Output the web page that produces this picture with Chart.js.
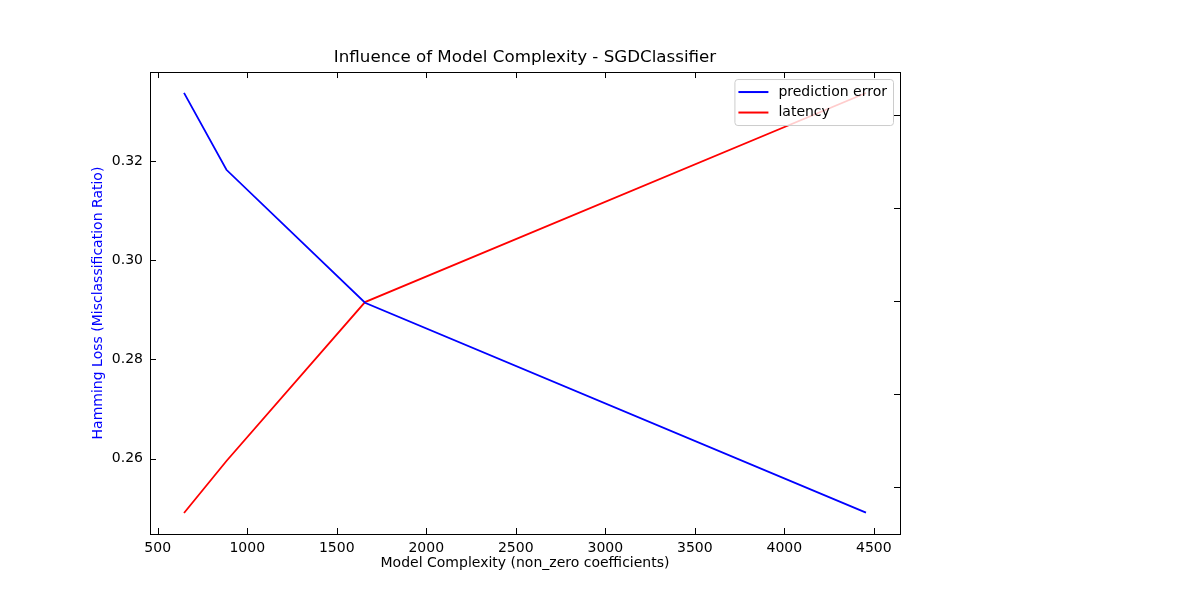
<!DOCTYPE html>
<html>
<head>
<meta charset="utf-8">
<title>Influence of Model Complexity - SGDClassifier</title>
<script src="https://cdn.jsdelivr.net/npm/chart.js@4/dist/chart.umd.min.js"></script>
<style>
  html, body { margin: 0; padding: 0; background: #fff; }
</style>
</head>
<body>
<canvas id="complexityChart" width="1200" height="600"></canvas>
<script>
// values
const complexity = [647, 884, 1658, 4456];
const predictionError = [0.3337, 0.3182, 0.2914, 0.2491];
const latency = [0.72, 1.28, 2.99, 5.24];
const seriesLabels = ['prediction error', 'latency'];
const seriesColors = ['#0000ff', '#ff0000'];
const xTicks = [500, 1000, 1500, 2000, 2500, 3000, 3500, 4000, 4500];

Chart.defaults.font.family = '"DejaVu Sans", sans-serif';
Chart.defaults.color = '#000';

// matplotlib-ish frame, inward ticks and legend box
const frameAndLegend = {
    id: 'frameAndLegend',
    afterDatasetsDraw(chart) {
        const { ctx, chartArea: a, scales } = chart;
        const len = 6;
        ctx.save();
        ctx.strokeStyle = '#000';
        ctx.lineWidth = 1;
        ctx.beginPath();
        scales.x.ticks.forEach(t => {
            const px = Math.round(scales.x.getPixelForValue(t.value)) + 0.5;
            ctx.moveTo(px, a.bottom); ctx.lineTo(px, a.bottom - len);
            ctx.moveTo(px, a.top); ctx.lineTo(px, a.top + len);
        });
        scales.y.ticks.forEach(t => {
            const py = Math.round(scales.y.getPixelForValue(t.value)) + 0.5;
            ctx.moveTo(a.left, py); ctx.lineTo(a.left + len, py);
        });
        scales.y2.ticks.forEach(t => {
            const py = Math.round(scales.y2.getPixelForValue(t.value)) + 0.5;
            ctx.moveTo(a.right, py); ctx.lineTo(a.right - len, py);
        });
        ctx.stroke();
        ctx.strokeRect(Math.round(a.left) + 0.5, Math.round(a.top) + 0.5,
            Math.round(a.right - a.left), Math.round(a.bottom - a.top));

        // legend
        ctx.font = '14px "DejaVu Sans", sans-serif';
        const textW = Math.max(...seriesLabels.map(s => ctx.measureText(s).width));
        const boxW = 4 + 30 + 10 + textW + 6;
        const boxH = 46;
        const bx = a.right - 7 - boxW;
        const by = a.top + 7;
        ctx.beginPath();
        ctx.roundRect(bx + 0.5, by + 0.5, boxW, boxH, 3);
        ctx.fillStyle = 'rgba(255,255,255,0.8)';
        ctx.fill();
        ctx.strokeStyle = '#cccccc';
        ctx.stroke();
        ctx.textBaseline = 'middle';
        ctx.textAlign = 'left';
        seriesLabels.forEach((label, i) => {
            const ry = by + 13 + i * 20.5;
            ctx.beginPath();
            ctx.strokeStyle = seriesColors[i];
            ctx.lineWidth = 2;
            ctx.moveTo(bx + 4, ry); ctx.lineTo(bx + 34, ry);
            ctx.stroke();
            ctx.fillStyle = '#000';
            ctx.fillText(label, bx + 44, ry);
        });
        ctx.restore();
    }
};

const ctx = document.getElementById('complexityChart').getContext('2d');
new Chart(ctx, {
    type: 'line',
    data: {
        datasets: [{
            label: seriesLabels[0],
            data: complexity.map((c, i) => ({ x: c, y: predictionError[i] })),
            borderColor: seriesColors[0],
            borderWidth: 1.8,
            pointRadius: 0,
            fill: false,
            yAxisID: 'y'
        }, {
            label: seriesLabels[1],
            data: complexity.map((c, i) => ({ x: c, y: latency[i] })),
            borderColor: seriesColors[1],
            borderWidth: 1.8,
            pointRadius: 0,
            fill: false,
            yAxisID: 'y2'
        }]
    },
    options: {
        responsive: false,
        animation: false,
        layout: { padding: 0 },
        scales: {
            x: {
                type: 'linear',
                position: 'bottom',
                min: 457,
                max: 4646,
                grid: { display: false, drawTicks: false },
                border: { display: false },
                afterBuildTicks: s => { s.ticks = xTicks.map(v => ({ value: v })); },
                ticks: {
                    autoSkip: false,
                    maxRotation: 0,
                    padding: 6,
                    font: { size: 14 },
                    callback: v => String(v)
                },
                title: {
                    display: true,
                    text: 'Model Complexity (non_zero coefficients)',
                    font: { size: 14 },
                    padding: { top: 0, bottom: 28 }
                },
                afterFit: s => { s.height = 66; }
            },
            y: {
                type: 'linear',
                position: 'left',
                min: 0.2448,
                max: 0.3379,
                grid: { display: false, drawTicks: false },
                border: { display: false },
                ticks: {
                    stepSize: 0.02,
                    includeBounds: false,
                    padding: 7,
                    font: { size: 14 },
                    callback: v => v.toFixed(2)
                },
                title: {
                    display: true,
                    text: 'Hamming Loss (Misclassification Ratio)',
                    color: '#0000ff',
                    font: { size: 14 },
                    padding: { top: 90, bottom: 0 }
                },
                afterFit: s => { s.width = 150; }
            },
            y2: {
                type: 'linear',
                position: 'right',
                min: 0.494,
                max: 5.466,
                grid: { display: false, drawTicks: false },
                border: { display: false },
                ticks: { display: false, stepSize: 1, includeBounds: false },
                afterFit: s => { s.width = 300; }
            }
        },
        plugins: {
            legend: { display: false },
            tooltip: { enabled: false },
            title: {
                display: true,
                fullSize: false,
                text: 'Influence of Model Complexity - SGDClassifier',
                color: '#000',
                font: { size: 16.7, weight: 'normal' },
                padding: { top: 48, bottom: 4 }
            }
        }
    },
    plugins: [frameAndLegend]
});
</script>
</body>
</html>
